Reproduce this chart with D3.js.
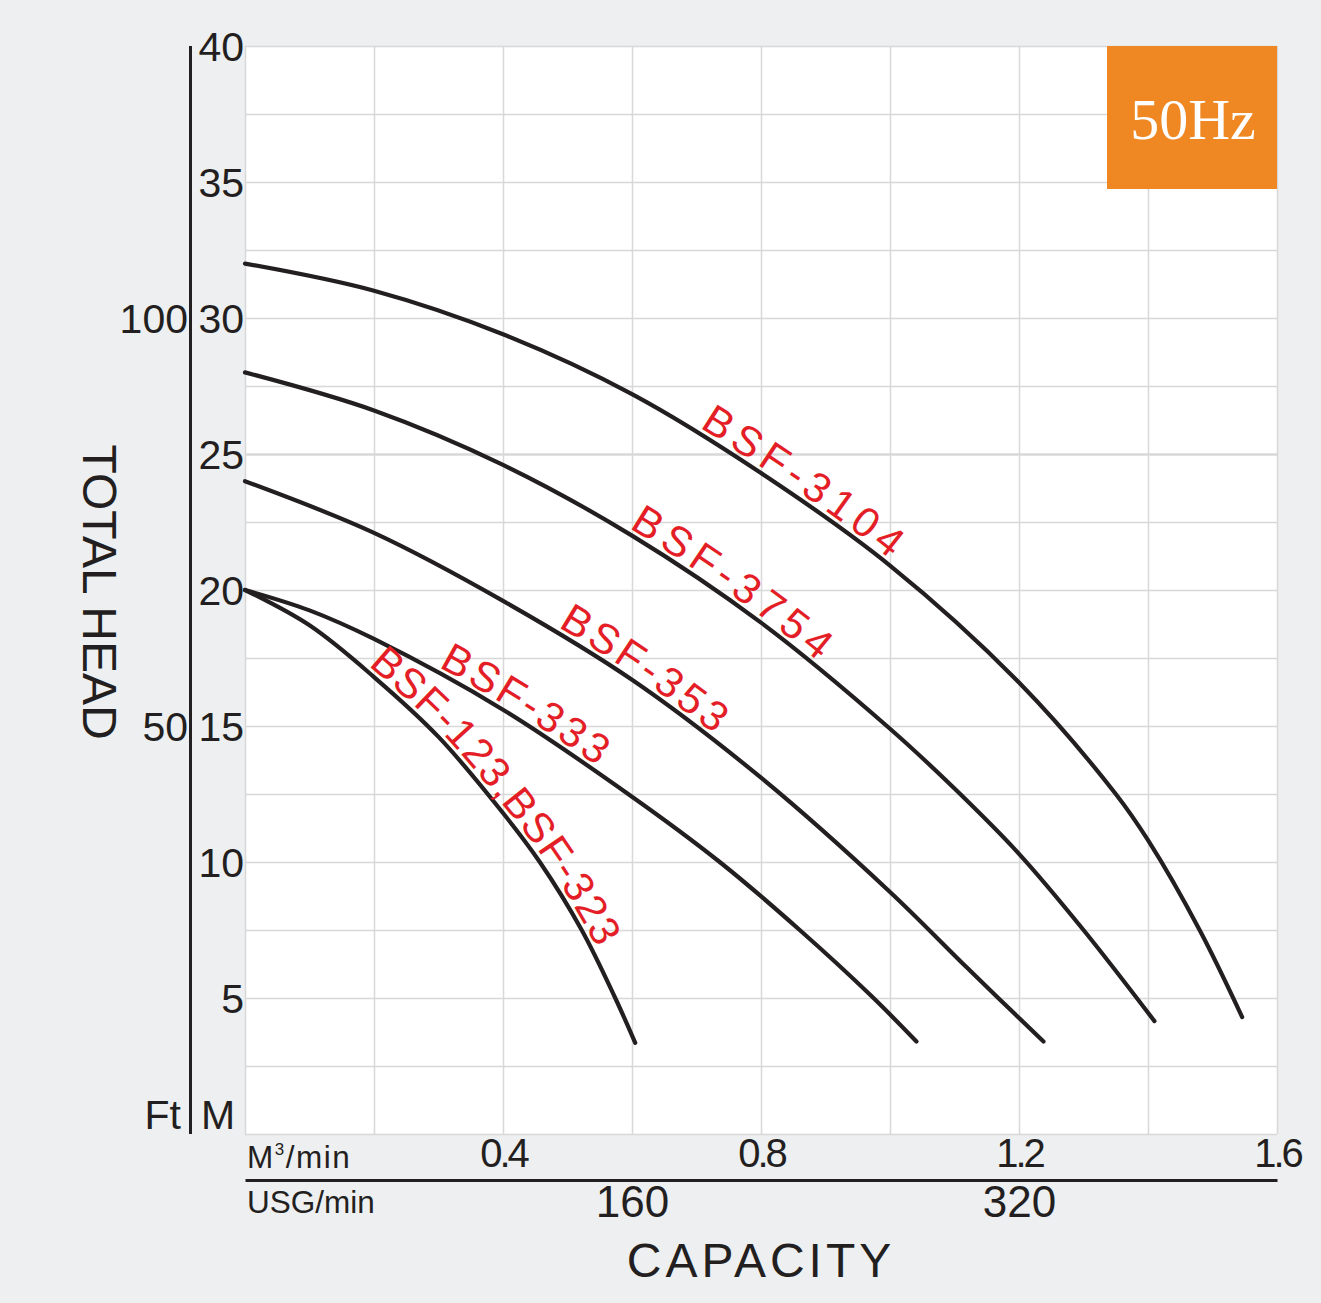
<!DOCTYPE html>
<html>
<head>
<meta charset="utf-8">
<script src="https://cdn.jsdelivr.net/npm/d3@7"></script>
<style>
body { margin: 0; background: #eeeff1; }
svg { display: block; font-family: "Liberation Sans", Arial, sans-serif; }
</style>
</head>
<body>
<div id="chart"></div>
<script>
// pump curves, Q in M3/min and H in metres
const seriesNames = ["BSF-3104", "BSF-3754", "BSF-353", "BSF-333", "BSF-123,BSF-323"];

const q3104 = [0, 0.2, 0.4, 0.6, 0.8, 1.0, 1.2, 1.35, 1.4, 1.48, 1.546];
const h3104 = [32.0, 31.0, 29.4, 27.2, 24.3, 20.9, 16.6, 12.5, 10.8, 7.5, 4.3];

const q3754 = [0, 0.2, 0.4, 0.6, 0.8, 1.0, 1.1, 1.2, 1.3, 1.41];
const h3754 = [28.0, 26.6, 24.6, 22.0, 18.8, 14.9, 12.7, 10.3, 7.5, 4.15];

const q353 = [0, 0.2, 0.4, 0.6, 0.8, 1.0, 1.12, 1.238];
const h353 = [24.0, 22.1, 19.6, 16.7, 13.1, 8.9, 6.1, 3.4];

const q333 = [0, 0.1, 0.2, 0.4, 0.6, 0.736, 0.86, 0.97, 1.041];
const h333 = [20.0, 19.25, 18.2, 15.6, 12.4, 10.0, 7.5, 5.1, 3.4];

const q323 = [0, 0.1, 0.2, 0.3, 0.4, 0.457, 0.522, 0.574, 0.605];
const h323 = [20.0, 18.7, 16.8, 14.6, 11.8, 10.0, 7.5, 5.0, 3.35];

// flow where each red label begins
const labelStartQ = [0.70, 0.59, 0.48, 0.295, 0.185];

const headTicks = [5, 10, 15, 20, 25, 30, 35, 40];
const feetTicks = [100, 50];
const feetAtHead = [30, 15];
const flowTicks = [0.4, 0.8, 1.2, 1.6];
const usgTicks = [160, 320];

var qs = [q3104, q3754, q353, q333, q323];
var hs = [h3104, h3754, h353, h333, h323];
var labelSpacing = [6, 6, 4, 3.5, 1.5];

var W = 1321, H = 1303;
var pLeft = 245, pRight = 1277, pTop = 46, pBottom = 1134;

var svg = d3.select("#chart").append("svg")
    .attr("width", W)
    .attr("height", H);

svg.append("rect")
    .attr("width", W).attr("height", H)
    .attr("fill", "#eeeff1");

var x = d3.scaleLinear().domain([0, 1.6]).range([pLeft, pRight]);
var y = d3.scaleLinear().domain([0, 40]).range([pBottom, pTop]);
// 160 USG/min sits under 0.6 M3/min on this sheet
var usg = d3.scaleLinear().domain([0, 320 / 1.2 * 1.6]).range([pLeft, pRight]);

svg.append("rect")
    .attr("x", pLeft).attr("y", pTop)
    .attr("width", pRight - pLeft).attr("height", pBottom - pTop)
    .attr("fill", "#fff");

// grid
var gx = svg.append("g")
    .attr("transform", "translate(0," + pBottom + ")")
    .call(d3.axisBottom(x).tickValues(d3.range(0, 1.61, 0.2)).tickSize(-(pBottom - pTop)).tickFormat(""));
var gy = svg.append("g")
    .attr("transform", "translate(" + pLeft + ",0)")
    .call(d3.axisLeft(y).tickValues(d3.range(0, 40.1, 2.5)).tickSize(-(pRight - pLeft)).tickFormat(""));
[gx, gy].forEach(function(g){
    g.select(".domain").remove();
    g.selectAll("line").attr("stroke", "#d8d8d8").attr("stroke-width", 1.5);
});
gy.selectAll(".tick").filter(function(d){ return d === 25; })
    .select("line").attr("stroke-width", 2.5);

// 50Hz box
svg.append("rect")
    .attr("x", 1107).attr("y", pTop)
    .attr("width", pRight - 1107).attr("height", 143)
    .attr("fill", "#ef8822");
svg.append("text")
    .attr("x", 1193).attr("y", 139)
    .attr("text-anchor", "middle")
    .attr("fill", "#fff")
    .style("font-family", "'Liberation Serif', 'DejaVu Serif', serif")
    .style("font-size", "58px")
    .text("50Hz");

// curves
var line = d3.line()
    .x(function(d){ return x(d.q); })
    .y(function(d){ return y(d.h); })
    .curve(d3.curveCatmullRom.alpha(0.5));

var paths = [];
seriesNames.forEach(function(name, i){
    var pts = qs[i].map(function(q, j){ return {q: q, h: hs[i][j]}; });
    var p = svg.append("path")
        .attr("id", "curve" + i)
        .attr("d", line(pts))
        .attr("fill", "none")
        .attr("stroke", "#231f20")
        .attr("stroke-width", 4.2)
        .attr("stroke-linecap", "round");
    paths.push(p);
});

// red labels running along their curves
seriesNames.forEach(function(name, i){
    var node = paths[i].node();
    var total = node.getTotalLength();
    var target = x(labelStartQ[i]);
    var len = 0;
    while (len < total && node.getPointAtLength(len).x < target) len += 1;
    svg.append("text")
        .attr("dy", -5)
        .style("font-size", "42px")
        .style("letter-spacing", labelSpacing[i] + "px")
        .attr("fill", "#e41e26")
        .append("textPath")
        .attr("href", "#curve" + i)
        .attr("startOffset", len)
        .text(name);
});

// left axis: metres
var ay = svg.append("g")
    .attr("transform", "translate(" + pLeft + ",0)")
    .call(d3.axisLeft(y).tickValues(headTicks).tickSize(0).tickPadding(1));
ay.select(".domain").remove();
ay.selectAll("text")
    .attr("dy", "0.36em")
    .attr("fill", "#231f20")
    .style("font-size", "41px")
    .style("font-family", "'Liberation Sans', Arial, sans-serif");

svg.append("line")
    .attr("x1", 190.5).attr("x2", 190.5)
    .attr("y1", y(40)).attr("y2", y(0))
    .attr("stroke", "#231f20").attr("stroke-width", 3);

// feet labels
svg.selectAll(".ft")
    .data(feetTicks)
    .enter()
    .append("text")
    .attr("class", "ft")
    .attr("x", 188)
    .attr("y", function(d, i){ return y(feetAtHead[i]); })
    .attr("dy", "0.36em")
    .attr("text-anchor", "end")
    .attr("fill", "#231f20")
    .style("font-size", "41px")
    .text(function(d){ return d; });

svg.append("text")
    .attr("x", 181).attr("y", 1129)
    .attr("text-anchor", "end")
    .attr("fill", "#231f20")
    .style("font-size", "41px")
    .text("Ft");
svg.append("text")
    .attr("x", 201).attr("y", 1129)
    .attr("fill", "#231f20")
    .style("font-size", "41px")
    .text("M");

svg.append("text")
    .attr("transform", "translate(83,592) rotate(90)")
    .attr("text-anchor", "middle")
    .attr("fill", "#231f20")
    .style("font-size", "48px")
    .text("TOTAL HEAD");

// bottom axes
var ax = svg.append("g")
    .attr("transform", "translate(0," + pBottom + ")")
    .call(d3.axisBottom(x).tickValues(flowTicks).tickSize(0).tickPadding(5).tickFormat(d3.format(".1f")));
ax.select(".domain").remove();
ax.selectAll("text")
    .attr("fill", "#231f20")
    .style("font-size", "40px")
    .style("letter-spacing", "-3px")
    .style("font-family", "'Liberation Sans', Arial, sans-serif");

var au = svg.append("g")
    .attr("transform", "translate(0,1180)")
    .call(d3.axisBottom(usg).tickValues(usgTicks).tickSize(0).tickSizeOuter(0).tickPadding(6));
au.select(".domain").attr("stroke", "#231f20").attr("stroke-width", 3);
au.selectAll("text")
    .attr("fill", "#231f20")
    .style("font-size", "44px")
    .style("font-family", "'Liberation Sans', Arial, sans-serif");

var m3 = svg.append("text")
    .attr("x", 247).attr("y", 1168)
    .attr("fill", "#231f20")
    .style("font-size", "31.5px")
    .style("letter-spacing", "1.5px");
m3.append("tspan").text("M");
m3.append("tspan").attr("dy", -13).style("font-size", "17px").text("3");
m3.append("tspan").attr("dy", 13).text("/min");

svg.append("text")
    .attr("x", 247).attr("y", 1213)
    .attr("fill", "#231f20")
    .style("font-size", "31.5px")
    .text("USG/min");

svg.append("text")
    .attr("x", 761).attr("y", 1277)
    .attr("text-anchor", "middle")
    .attr("fill", "#231f20")
    .style("font-size", "48px")
    .style("letter-spacing", "4px")
    .text("CAPACITY");
</script>
</body>
</html>
